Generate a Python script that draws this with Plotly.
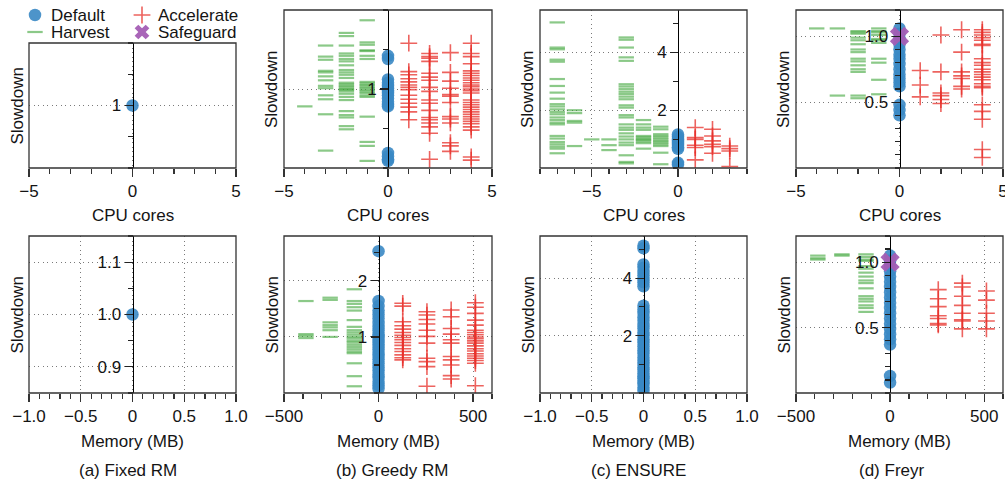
import plotly.graph_objects as go

W, H = 1005, 483

# ------------------------------------------------------------------ data
# (a) Fixed RM
a_cpu_default_x = [0]
a_cpu_default_y = [1.0]
a_mem_default_x = [0]
a_mem_default_y = [1.0]

# (b) Greedy RM - CPU
b_cpu_harvest_levels = [-4, -3, -2, -1]
b_cpu_harvest_values = [
    [0.78],
    [1.55, 1.41, 1.37, 1.23, 1.21, 1.16, 1.11, 1.04, 1.01, 0.92, 0.87, 0.68, 0.22],
    [1.71, 1.67, 1.55, 1.45, 1.42, 1.38, 1.35, 1.30, 1.24, 1.21, 1.18, 1.14, 1.08, 1.06,
     1.04, 1.02, 1.00, 0.99, 0.97, 0.94, 0.90, 0.86, 0.72, 0.67, 0.64, 0.53, 0.49],
    [1.87, 1.59, 1.56, 1.49, 1.48, 1.42, 1.38, 1.09, 1.07, 1.05, 1.03, 1.01, 0.99, 0.97,
     0.95, 0.92, 0.90, 0.65, 0.33, 0.28, 0.09],
]
b_cpu_default_y = [1.42, 1.38, 1.12, 1.08, 1.04, 1.01, 0.98, 0.95, 0.92, 0.88, 0.84, 0.80,
                   0.78, 0.19, 0.15, 0.11, 0.09]
b_cpu_accel_levels = [1, 2, 3, 4]
b_cpu_accel_values = [
    [1.58, 1.22, 1.18, 1.13, 1.09, 1.05, 1.02, 0.99, 0.92, 0.87, 0.82, 0.77, 0.71, 0.61],
    [1.45, 1.41, 1.39, 1.35, 1.20, 1.15, 1.11, 1.02, 0.97, 0.86, 0.82, 0.73, 0.64, 0.61,
     0.57, 0.52, 0.44, 0.11],
    [1.46, 1.21, 1.10, 1.01, 0.93, 0.91, 0.83, 0.65, 0.62, 0.57, 0.32, 0.28, 0.21],
    [1.58, 1.45, 1.41, 1.32, 1.23, 1.20, 1.17, 1.14, 1.11, 1.08, 1.05, 1.03, 1.00, 0.98,
     0.95, 0.86, 0.83, 0.80, 0.77, 0.74, 0.71, 0.68, 0.65, 0.62, 0.59, 0.56, 0.52, 0.48,
     0.14, 0.10],
]

# (b) Greedy RM - Memory
b_mem_harvest_levels = [-384, -256, -128]
b_mem_harvest_values = [
    [1.64, 1.05, 1.02, 0.98],
    [1.70, 1.66, 1.26, 1.21, 1.17, 1.12, 1.00],
    [1.85, 1.64, 1.59, 1.53, 1.47, 1.30, 1.18, 1.12, 1.08, 1.04, 1.00, 0.97, 0.93, 0.90,
     0.86, 0.82, 0.78, 0.74, 0.71, 0.53, 0.30, 0.12],
]
b_mem_default_y = [2.53, 1.64, 1.55, 1.47, 1.40, 1.33, 1.25, 1.18, 1.12, 1.05, 1.00, 0.95,
                   0.90, 0.84, 0.78, 0.72, 0.66, 0.60, 0.53, 0.46, 0.40, 0.33, 0.27, 0.20,
                   0.14, 0.08]
b_mem_accel_levels = [128, 256, 384, 512]
b_mem_accel_values = [
    [1.60, 1.55, 1.27, 1.20, 1.14, 1.08, 1.03, 0.99, 0.95, 0.90, 0.85, 0.79, 0.74, 0.68,
     0.63, 0.59],
    [1.45, 1.39, 1.31, 1.23, 1.12, 1.01, 0.89, 0.62, 0.56, 0.47, 0.12],
    [1.48, 1.36, 1.15, 1.05, 0.95, 0.89, 0.65, 0.59, 0.50, 0.31, 0.25],
    [1.61, 1.53, 1.42, 1.30, 1.21, 1.12, 1.08, 1.04, 1.00, 0.97, 0.93, 0.89, 0.84, 0.79,
     0.75, 0.70, 0.66, 0.62, 0.58, 0.53, 0.13],
]

# (c) ENSURE - CPU
c_cpu_harvest_levels = [-7, -6, -5, -4, -3, -2, -1]
c_cpu_harvest_values = [
    [5.04, 4.17, 4.11, 3.75, 3.68, 3.08, 2.84, 2.61, 2.40, 2.21, 2.13, 2.03, 1.94, 1.86,
     1.75, 1.66, 1.57, 1.51, 1.11, 1.02, 0.90, 0.82, 0.74, 0.67, 0.51],
    [2.00, 1.90, 1.63, 1.57, 0.76],
    [0.99],
    [0.99, 0.79, 0.62],
    [4.52, 4.44, 4.17, 3.83, 3.71, 2.90, 2.82, 2.73, 2.64, 2.56, 2.47, 2.38, 2.17, 2.09,
     1.83, 1.75, 1.51, 1.40, 1.32, 1.20, 1.09, 0.99, 0.88, 0.79, 0.44, 0.21, 0.16],
    [1.66, 1.51, 1.40, 1.32, 1.11, 1.06, 1.01, 0.97, 0.92, 0.86, 0.67],
    [1.43, 1.34, 1.17, 1.11, 1.05, 0.99, 0.93, 0.88, 0.82, 0.76, 0.53, 0.13],
]
c_cpu_default_y = [1.16, 1.08, 1.00, 0.94, 0.87, 0.80, 0.72, 0.66, 0.18, 0.12]
c_cpu_accel_levels = [1, 2, 3]
c_cpu_accel_values = [
    [1.40, 1.05, 0.99, 0.79, 0.71, 0.28],
    [1.34, 1.11, 0.94, 0.82, 0.74, 0.51],
    [0.76, 0.67, 0.59, 0.05],
]

# (c) ENSURE - Memory
c_mem_default_y = [5.13, 5.04, 4.48, 4.36, 4.22, 4.10, 3.97, 3.86, 3.72, 3.04, 2.91, 2.79,
                   2.64, 2.52, 2.37, 2.26, 2.11, 2.01, 1.87, 1.76, 1.63, 1.49, 1.38, 1.24,
                   1.13, 1.01, 0.89, 0.81, 0.69, 0.58, 0.51, 0.39, 0.31, 0.19, 0.09]

# (d) Freyr - CPU
d_cpu_harvest_levels = [-4, -3, -2, -1]
d_cpu_harvest_values = [
    [1.06],
    [1.06, 0.55],
    [1.04, 1.03, 1.02, 0.99, 0.97, 0.94, 0.90, 0.88, 0.83, 0.81, 0.78, 0.75, 0.73, 0.55, 0.53],
    [1.06, 1.04, 1.03, 1.01, 0.98, 0.97, 0.95, 0.83, 0.80, 0.67, 0.56],
]
d_cpu_default_y = [1.06, 1.02, 0.98, 0.94, 0.90, 0.86, 0.83, 0.79, 0.75, 0.71, 0.68, 0.65,
                   0.62, 0.48, 0.44, 0.40]
d_cpu_safeguard_x = [0]
d_cpu_safeguard_y = [1.0]
d_cpu_accel_levels = [1, 2, 3, 4]
d_cpu_accel_values = [
    [0.74, 0.63, 0.54],
    [1.01, 0.73, 0.57, 0.55, 0.52, 0.49],
    [1.05, 0.88, 0.73, 0.70, 0.68, 0.62, 0.60],
    [1.05, 1.03, 1.01, 0.99, 0.97, 0.94, 0.93, 0.83, 0.80, 0.78, 0.75, 0.73, 0.71, 0.69,
     0.67, 0.64, 0.62, 0.61, 0.48, 0.43, 0.37, 0.14, 0.08],
]

# (d) Freyr - Memory
d_mem_harvest_levels = [-384, -256, -128]
d_mem_harvest_values = [
    [1.05, 1.03, 1.02],
    [1.06, 1.05],
    [1.06, 1.04, 1.02, 1.01, 0.97, 0.95, 0.92, 0.89, 0.86, 0.84, 0.80, 0.74, 0.72, 0.70,
     0.67, 0.65, 0.62],
]
d_mem_default_y = [1.05, 1.01, 0.97, 0.93, 0.89, 0.85, 0.81, 0.77, 0.73, 0.69, 0.65, 0.61,
                   0.57, 0.53, 0.49, 0.45, 0.41, 0.37, 0.13, 0.08]
d_mem_safeguard_x = [0]
d_mem_safeguard_y = [1.0]
d_mem_accel_levels = [256, 384, 512]
d_mem_accel_values = [
    [0.79, 0.72, 0.66, 0.59, 0.57, 0.53, 0.52],
    [0.84, 0.81, 0.74, 0.67, 0.61, 0.56, 0.55, 0.49],
    [0.78, 0.71, 0.61, 0.55, 0.49],
]

legend_labels = ["Default", "Harvest", "Accelerate", "Safeguard"]
subcaptions = ["(a) Fixed RM", "(b) Greedy RM", "(c) ENSURE", "(d) Freyr"]
x_titles = ["CPU cores", "Memory (MB)"]
y_title = "Slowdown"

# ------------------------------------------------------------------ styles
BLUE = "#3a88c4"
GREEN = "#3fa63a"
RED = "#e8302a"
PURPLE = "#a45db4"
FONT = "Liberation Sans, Arial, Helvetica, sans-serif"
TXT = "#141414"
GRID = dict(showgrid=True, gridcolor="#7a7a7a", griddash="1px,3.5px", gridwidth=1)

STY = {
    "Default": dict(mode="markers", marker=dict(symbol="circle", size=12.5, color=BLUE,
                                                opacity=0.9, line=dict(width=0))),
    "Harvest": dict(mode="markers", marker=dict(symbol="line-ew", size=11, opacity=0.6,
                                                line=dict(width=2.2, color=GREEN))),
    "Accelerate": dict(mode="markers", marker=dict(symbol="cross-thin", size=12, opacity=0.75,
                                                   line=dict(width=1.6, color=RED))),
    "Safeguard": dict(mode="markers", marker=dict(symbol="x", size=17, color=PURPLE,
                                                  opacity=0.95, line=dict(width=0))),
}


def expand(levels, values):
    xs, ys = [], []
    for lv, vals in zip(levels, values):
        xs += [lv] * len(vals)
        ys += list(vals)
    return xs, ys


# panel layout (pixels): columns and rows
cols = [(29, 236), (284, 492), (540, 747), (796, 1003)]
top_rows = [(43, 168), (10, 168), (10, 168), (10, 168)]
bot_row = (236, 393)

M = "\u2212"
panels = [
    # top row (CPU)
    dict(xr=[-5, 5], xt=[-5, 0, 5], xl=[M + "5", "0", "5"], xm=1,
         yr=[0.8, 1.2], yt=[1.0], yl=["1"], ym=0.1),
    dict(xr=[-5, 5], xt=[-5, 0, 5], xl=[M + "5", "0", "5"], xm=1,
         yr=[0, 2], yt=[1.0], yl=["1"], ym=0.5),
    dict(xr=[-8, 4], xt=[-5, 0], xl=[M + "5", "0"], xm=1,
         yr=[0, 5.47], yt=[2, 4], yl=["2", "4"], ym=1),
    dict(xr=[-5, 5], xt=[-5, 0, 5], xl=[M + "5", "0", "5"], xm=1,
         yr=[0, 1.2], yt=[0.5, 1.0], yl=["0.5", "1.0"], ym=0.1),
    # bottom row (Memory)
    dict(xr=[-1, 1], xt=[-1, -0.5, 0, 0.5, 1], xl=[M + "1.0", M + "0.5", "0", "0.5", "1.0"], xm=0.1,
         yr=[0.85, 1.15], yt=[0.9, 1.0, 1.1], yl=["0.9", "1.0", "1.1"], ym=0.05),
    dict(xr=[-500, 600], xt=[-500, 0, 500], xl=[M + "500", "0", "500"], xm=100,
         yr=[0, 2.8], yt=[1, 2], yl=["1", "2"], ym=0.5),
    dict(xr=[-1, 1], xt=[-1, -0.5, 0, 0.5, 1], xl=[M + "1.0", M + "0.5", "0", "0.5", "1.0"], xm=0.1,
         yr=[0, 5.47], yt=[2, 4], yl=["2", "4"], ym=1),
    dict(xr=[-500, 600], xt=[-500, 0, 500], xl=[M + "500", "0", "500"], xm=100,
         yr=[0, 1.2], yt=[0.5, 1.0], yl=["0.5", "1.0"], ym=0.1),
]

layout = dict(width=W, height=H, margin=dict(l=0, r=0, t=0, b=0, autoexpand=False),
              plot_bgcolor="white", paper_bgcolor="white", showlegend=False,
              template="none",
              font=dict(family=FONT, size=17, color=TXT))
shapes, annotations = [], []

for i, p in enumerate(panels):
    n = i + 1
    col = i % 4
    rowpx = top_rows[col] if i < 4 else bot_row
    x0p, x1p = cols[col]
    y0p, y1p = rowpx
    xkey = "xaxis" if n == 1 else f"xaxis{n}"
    ykey = "yaxis" if n == 1 else f"yaxis{n}"
    xr = p["xr"]
    zero_px = x0p + (0 - xr[0]) / (xr[1] - xr[0]) * (x1p - x0p)
    layout[xkey] = dict(
        domain=[x0p / W, x1p / W], range=xr, anchor=f"y{n}" if n > 1 else "y",
        automargin=False, showline=False, zeroline=False, ticks="outside", ticklen=8,
        tickwidth=1.2, tickcolor="#333", tickmode="array", tickvals=p["xt"],
        ticktext=p["xl"], tickfont=dict(size=17, color=TXT), fixedrange=True,
        ticklabeloverflow="allow",
        minor=dict(ticks="outside", ticklen=5, tickwidth=1.2, tickcolor="#333",
                   tick0=0, dtick=p["xm"], showgrid=False),
        **GRID,
    )
    layout[ykey] = dict(
        domain=[1 - y1p / H, 1 - y0p / H], range=p["yr"], anchor="free",
        position=zero_px / W, automargin=False, showline=True, linecolor="black",
        linewidth=1.3, zeroline=False, ticks="outside", ticklen=8, tickwidth=1.2,
        tickcolor="#222", tickmode="array", tickvals=p["yt"], ticktext=p["yl"],
        tickfont=dict(size=17, color=TXT), fixedrange=True,
        ticklabeloverflow="allow",
        minor=dict(ticks="outside", ticklen=5, tickwidth=1.2, tickcolor="#222",
                   tick0=0, dtick=p["ym"], showgrid=False),
        **GRID,
    )
    sx = "x" if n == 1 else f"x{n}"
    sy = "y" if n == 1 else f"y{n}"
    shapes.append(dict(type="rect", xref=f"{sx} domain", yref=f"{sy} domain",
                       x0=0, x1=1, y0=0, y1=1, layer="above",
                       line=dict(color="#333333", width=1.3)))
    # y title
    annotations.append(dict(text=y_title, textangle=-90, xref="paper", yref="paper",
                            x=(x0p - 12) / W, y=1 - (y0p + y1p) / 2 / H,
                            xanchor="center", yanchor="middle", showarrow=False,
                            font=dict(size=17, color=TXT)))
    # x title
    ty = 216 if i < 4 else 441
    annotations.append(dict(text=x_titles[0 if i < 4 else 1], xref="paper", yref="paper",
                            x=(x0p + x1p) / 2 / W, y=1 - ty / H, xanchor="center",
                            yanchor="middle", showarrow=False, font=dict(size=17, color=TXT)))

# subcaptions
cap_centers = [128, 392, 638, 892]
for c, txt in zip(cap_centers, subcaptions):
    annotations.append(dict(text=txt, xref="paper", yref="paper", x=c / W, y=1 - 470 / H,
                            xanchor="center", yanchor="middle", showarrow=False,
                            font=dict(size=17, color=TXT)))

fig = go.Figure()


def add(name, xs, ys, n):
    sx = "x" if n == 1 else f"x{n}"
    sy = "y" if n == 1 else f"y{n}"
    fig.add_trace(go.Scatter(x=xs, y=ys, name=name, xaxis=sx, yaxis=sy,
                             hoverinfo="skip", **STY[name]))


# panel 1 / 5 : Fixed RM
add("Default", a_cpu_default_x, a_cpu_default_y, 1)
add("Default", a_mem_default_x, a_mem_default_y, 5)

# panel 2 : Greedy CPU
add("Harvest", *expand(b_cpu_harvest_levels, b_cpu_harvest_values), 2)
add("Accelerate", *expand(b_cpu_accel_levels, b_cpu_accel_values), 2)
add("Default", *expand([0], [b_cpu_default_y]), 2)
# panel 6 : Greedy Memory
add("Harvest", *expand(b_mem_harvest_levels, b_mem_harvest_values), 6)
add("Accelerate", *expand(b_mem_accel_levels, b_mem_accel_values), 6)
add("Default", *expand([0], [b_mem_default_y]), 6)

# panel 3 : ENSURE CPU
add("Harvest", *expand(c_cpu_harvest_levels, c_cpu_harvest_values), 3)
add("Accelerate", *expand(c_cpu_accel_levels, c_cpu_accel_values), 3)
add("Default", *expand([0], [c_cpu_default_y]), 3)
# panel 7 : ENSURE Memory
add("Default", *expand([0], [c_mem_default_y]), 7)

# panel 4 : Freyr CPU
add("Harvest", *expand(d_cpu_harvest_levels, d_cpu_harvest_values), 4)
add("Accelerate", *expand(d_cpu_accel_levels, d_cpu_accel_values), 4)
add("Default", *expand([0], [d_cpu_default_y]), 4)
add("Safeguard", d_cpu_safeguard_x, d_cpu_safeguard_y, 4)
# panel 8 : Freyr Memory
add("Harvest", *expand(d_mem_harvest_levels, d_mem_harvest_values), 8)
add("Accelerate", *expand(d_mem_accel_levels, d_mem_accel_values), 8)
add("Default", *expand([0], [d_mem_default_y]), 8)
add("Safeguard", d_mem_safeguard_x, d_mem_safeguard_y, 8)

# ---- legend (drawn in its own hidden axis, pixel-like coordinates) ----
LEG_W, LEG_H = 250, 43
layout["xaxis9"] = dict(domain=[0, LEG_W / W], range=[0, LEG_W], visible=False,
                        fixedrange=True, anchor="y9", automargin=False)
layout["yaxis9"] = dict(domain=[1 - LEG_H / H, 1], range=[LEG_H, 0], visible=False,
                        fixedrange=True, anchor="x9", automargin=False)
leg_sym_x = [35, 35, 142, 142]
leg_row_y = [15, 32, 15, 32]
leg_sizes = {"Safeguard": 13}
for lbl, lx, ly in zip(legend_labels, leg_sym_x, leg_row_y):
    sty = {k: (dict(v) if isinstance(v, dict) else v) for k, v in STY[lbl].items()}
    if lbl in leg_sizes:
        sty["marker"]["size"] = leg_sizes[lbl]
    fig.add_trace(go.Scatter(x=[lx], y=[ly], xaxis="x9", yaxis="y9", hoverinfo="skip",
                             name=lbl, cliponaxis=False, **sty))
    annotations.append(dict(text=lbl, xref="x9", yref="y9", x=lx + 14, y=ly,
                            xanchor="left", yanchor="middle", showarrow=False,
                            font=dict(size=17, color=TXT)))

layout["shapes"] = shapes
layout["annotations"] = annotations
fig.update_layout(**layout)
fig.write_html(
    "out.html",
    config={"displayModeBar": False, "staticPlot": True},
    post_script="document.body.style.margin='0';document.body.style.padding='0';"
                "document.body.style.overflow='hidden';",
)
